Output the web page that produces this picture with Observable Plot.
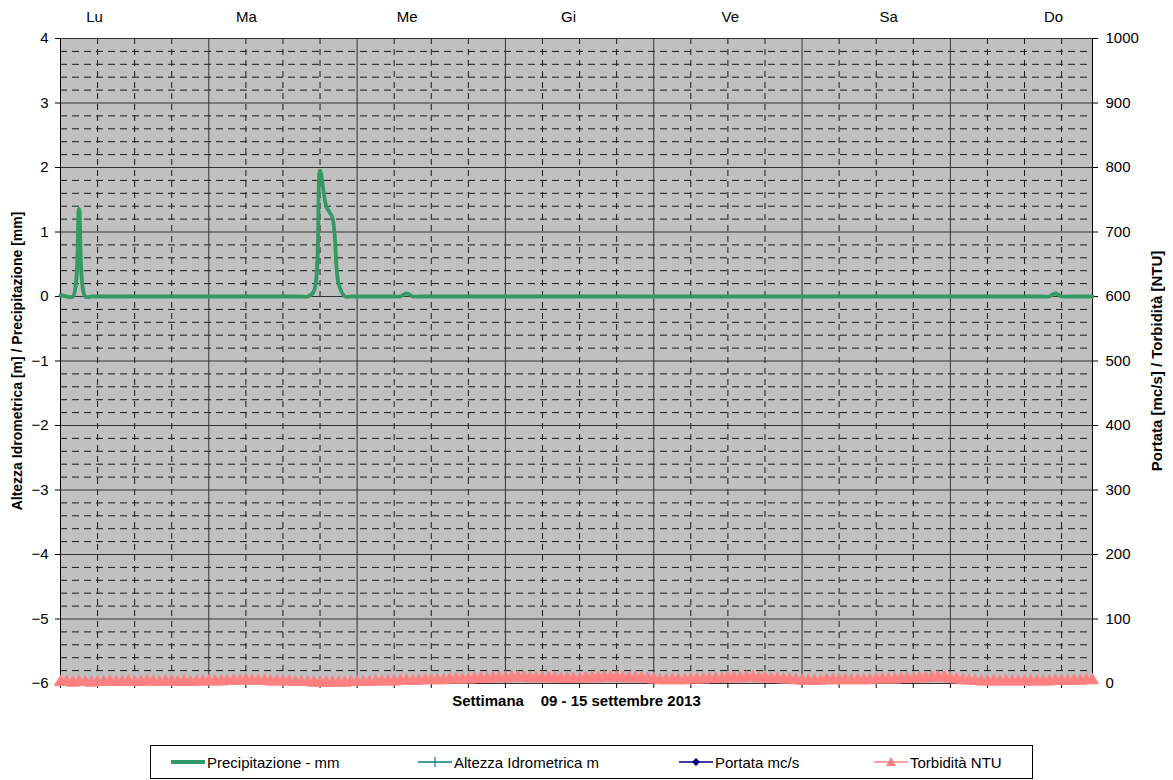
<!DOCTYPE html>
<html>
<head>
<meta charset="utf-8">
<script src="https://cdn.jsdelivr.net/npm/d3@7"></script>
<script src="https://cdn.jsdelivr.net/npm/@observablehq/plot@0.6"></script>
<style>
  body { margin: 0; background: #fff; font-family: "Liberation Sans", Arial, sans-serif; }
  #legend { position: relative; margin-left: 150px; margin-top: 20px; width: 881px; height: 32px; border: 1px solid #000; font-size: 15px; color: #000; }
  #legend .item { position: absolute; top: 0; height: 32px; display: flex; align-items: center; }
  #legend svg { display: block; }
</style>
</head>
<body>
<div id="chart"></div>
<div id="legend"></div>
<script>
// ---- data (hourly, 09-15 settembre 2013) ----
const days = ["Lu", "Ma", "Me", "Gi", "Ve", "Sa", "Do"];
const dayLabelHour = [5.5, 30.1, 56.1, 82.2, 108.4, 134, 160.7];

const precipitazione = [
  // Lu
  0.02, 0, 0, 1.36, 0, 0, 0, 0, 0, 0, 0, 0, 0, 0, 0, 0, 0, 0, 0, 0, 0, 0, 0, 0,
  // Ma
  0, 0, 0, 0, 0, 0, 0, 0, 0, 0, 0, 0, 0, 0, 0, 0, 0, 0.08, 1.95, 1.4, 1.22, 0.2, 0, 0,
  // Me
  0, 0, 0, 0, 0, 0, 0, 0, 0.05, 0, 0, 0, 0, 0, 0, 0, 0, 0, 0, 0, 0, 0, 0, 0,
  // Gi
  0, 0, 0, 0, 0, 0, 0, 0, 0, 0, 0, 0, 0, 0, 0, 0, 0, 0, 0, 0, 0, 0, 0, 0,
  // Ve
  0, 0, 0, 0, 0, 0, 0, 0, 0, 0, 0, 0, 0, 0, 0, 0, 0, 0, 0, 0, 0, 0, 0, 0,
  // Sa
  0, 0, 0, 0, 0, 0, 0, 0, 0, 0, 0, 0, 0, 0, 0, 0, 0, 0, 0, 0, 0, 0, 0, 0,
  // Do
  0, 0, 0, 0, 0, 0, 0, 0, 0, 0, 0, 0, 0, 0, 0, 0, 0, 0.05, 0, 0, 0, 0, 0, 0
];

const torbidita = [
  // Lu
  2, 2, 1, 2, 2, 1, 2, 2, 3, 2, 2, 3, 2, 2, 3, 3, 2, 3, 3, 2, 3, 2, 3, 3,
  // Ma
  3, 3, 3, 4, 4, 4, 5, 4, 4, 4, 3, 3, 3, 3, 2, 2, 2, 1, 1, 1, 1, 1, 1, 2,
  // Me
  2, 2, 2, 3, 3, 3, 3, 4, 4, 4, 4, 5, 5, 5, 5, 6, 6, 6, 6, 7, 7, 7, 8, 8,
  // Gi
  8, 9, 9, 9, 8, 8, 8, 8, 8, 7, 7, 7, 7, 8, 8, 8, 9, 9, 9, 8, 8, 8, 8, 7,
  // Ve
  6, 5, 5, 5, 5, 5, 6, 6, 6, 7, 7, 7, 8, 8, 8, 9, 9, 8, 8, 7, 7, 6, 6, 5,
  // Sa
  4, 4, 4, 4, 5, 5, 5, 5, 5, 5, 5, 5, 6, 6, 6, 6, 7, 7, 7, 8, 8, 9, 9, 9,
  // Do
  7, 6, 5, 4, 4, 3, 3, 3, 3, 3, 3, 3, 3, 3, 3, 3, 3, 4, 4, 4, 4, 4, 5, 5
];

const leftTicks = [-6, -5, -4, -3, -2, -1, 0, 1, 2, 3, 4];

// ---- helpers ----
const hours = precipitazione.map((_, i) => i);
const lastHour = hours.length - 1;
const toLeft = ntu => ntu / 100 - 6;               // right axis (0..1000) -> left axis (-6..4)
const minorY = d3.range(-6, 4.001, 0.2).map(v => +v.toFixed(1)).filter(v => !Number.isInteger(v));
const sixH = d3.range(0, lastHour + 1, 6);
const minorX = sixH.filter(h => h % 24 !== 0);
const dayX = d3.range(0, lastHour + 1, 24);

const green = "#339966", pink = "#FF8080";

const chart = Plot.plot({
  width: 1173,
  height: 725,
  marginLeft: 60,
  marginRight: 81,
  marginTop: 38,
  marginBottom: 42,
  style: { fontFamily: "'Liberation Sans', Arial, sans-serif", fontSize: "15px", color: "#000", background: "#fff", overflow: "visible" },
  x: { domain: [0, lastHour] },
  y: { domain: [-6, 4] },
  marks: [
    Plot.frame({ fill: "#C0C0C0", stroke: null }),
    Plot.ruleY(minorY, { stroke: "#1a1a1a", strokeDasharray: "7,5", strokeWidth: 1 }),
    Plot.ruleX(minorX, { stroke: "#1a1a1a", strokeDasharray: "6,5", strokeWidth: 1 }),
    Plot.ruleY(leftTicks, { stroke: "#333", strokeWidth: 1 }),
    Plot.ruleX(dayX, { stroke: "#333", strokeWidth: 1 }),
    Plot.ruleX([0, lastHour], { stroke: "#000", strokeWidth: 1 }),
    Plot.axisY({ anchor: "left", ticks: leftTicks, tickSize: 5, tickPadding: 7, label: null, fontSize: 15 }),
    Plot.axisY({ anchor: "right", ticks: leftTicks, tickSize: 5, tickPadding: 8, tickFormat: d => String(Math.round((d + 6) * 100)), label: null, fontSize: 15 }),
    Plot.axisX({ ticks: sixH, tickSize: 5, tickFormat: () => "", label: null }),
    Plot.text(days, { x: (d, i) => dayLabelHour[i], y: () => 4, dy: -21, text: d => d, fontSize: 15 }),
    Plot.line(hours, { x: d => d, y: d => toLeft(torbidita[d]), stroke: pink, strokeWidth: 3 }),
    Plot.dot(hours, { x: d => d, y: d => toLeft(torbidita[d]), symbol: "triangle", r: 5, fill: pink, stroke: null }),
    Plot.line(hours, { x: d => d, y: d => precipitazione[d], curve: "catmull-rom", stroke: green, strokeWidth: 3.8, strokeLinejoin: "round" }),
    Plot.text(["Altezza Idrometrica [m] / Precipitazione [mm]"], { frameAnchor: "left", dx: -43, rotate: -90, textAnchor: "middle", fontWeight: "bold", fontSize: 14 }),
    Plot.text(["Portata [mc/s] / Torbidità [NTU]"], { frameAnchor: "right", dx: 65, rotate: -90, textAnchor: "middle", fontWeight: "bold", fontSize: 15 }),
    Plot.text(["Settimana\u00a0\u00a0\u00a0\u00a009 - 15 settembre 2013"], { frameAnchor: "bottom", dy: 22, textAnchor: "middle", fontWeight: "bold", fontSize: 15 })
  ]
});
document.getElementById("chart").appendChild(chart);

// ---- legend ----
const legendItems = [
  { label: "Precipitazione - mm", color: green, width: 3.8, marker: null, left: 20 },
  { label: "Altezza Idrometrica m", color: "#008080", width: 1.5, marker: "cross", left: 267 },
  { label: "Portata mc/s", color: "#000080", width: 1.5, marker: "diamond", left: 528 },
  { label: "Torbidità NTU", color: pink, width: 1.5, marker: "triangle", left: 723 }
];
const legend = d3.select("#legend");
legendItems.forEach(it => {
  const item = legend.append("div").attr("class", "item").style("left", it.left + "px");
  const s = item.append("svg").attr("width", 34).attr("height", 12);
  s.append("line").attr("x1", 0).attr("x2", 34).attr("y1", 6).attr("y2", 6)
    .attr("stroke", it.color).attr("stroke-width", it.width);
  if (it.marker === "cross") {
    s.append("line").attr("x1", 17).attr("x2", 17).attr("y1", 1).attr("y2", 11).attr("stroke", it.color).attr("stroke-width", 1.2);
  } else if (it.marker === "diamond") {
    s.append("path").attr("d", "M17,2L21,6L17,10L13,6Z").attr("fill", it.color);
  } else if (it.marker === "triangle") {
    s.append("path").attr("d", "M17,1L22,10L12,10Z").attr("fill", it.color);
  }
  item.append("span").style("margin-left", "2px").text(it.label);
});
</script>
</body>
</html>
